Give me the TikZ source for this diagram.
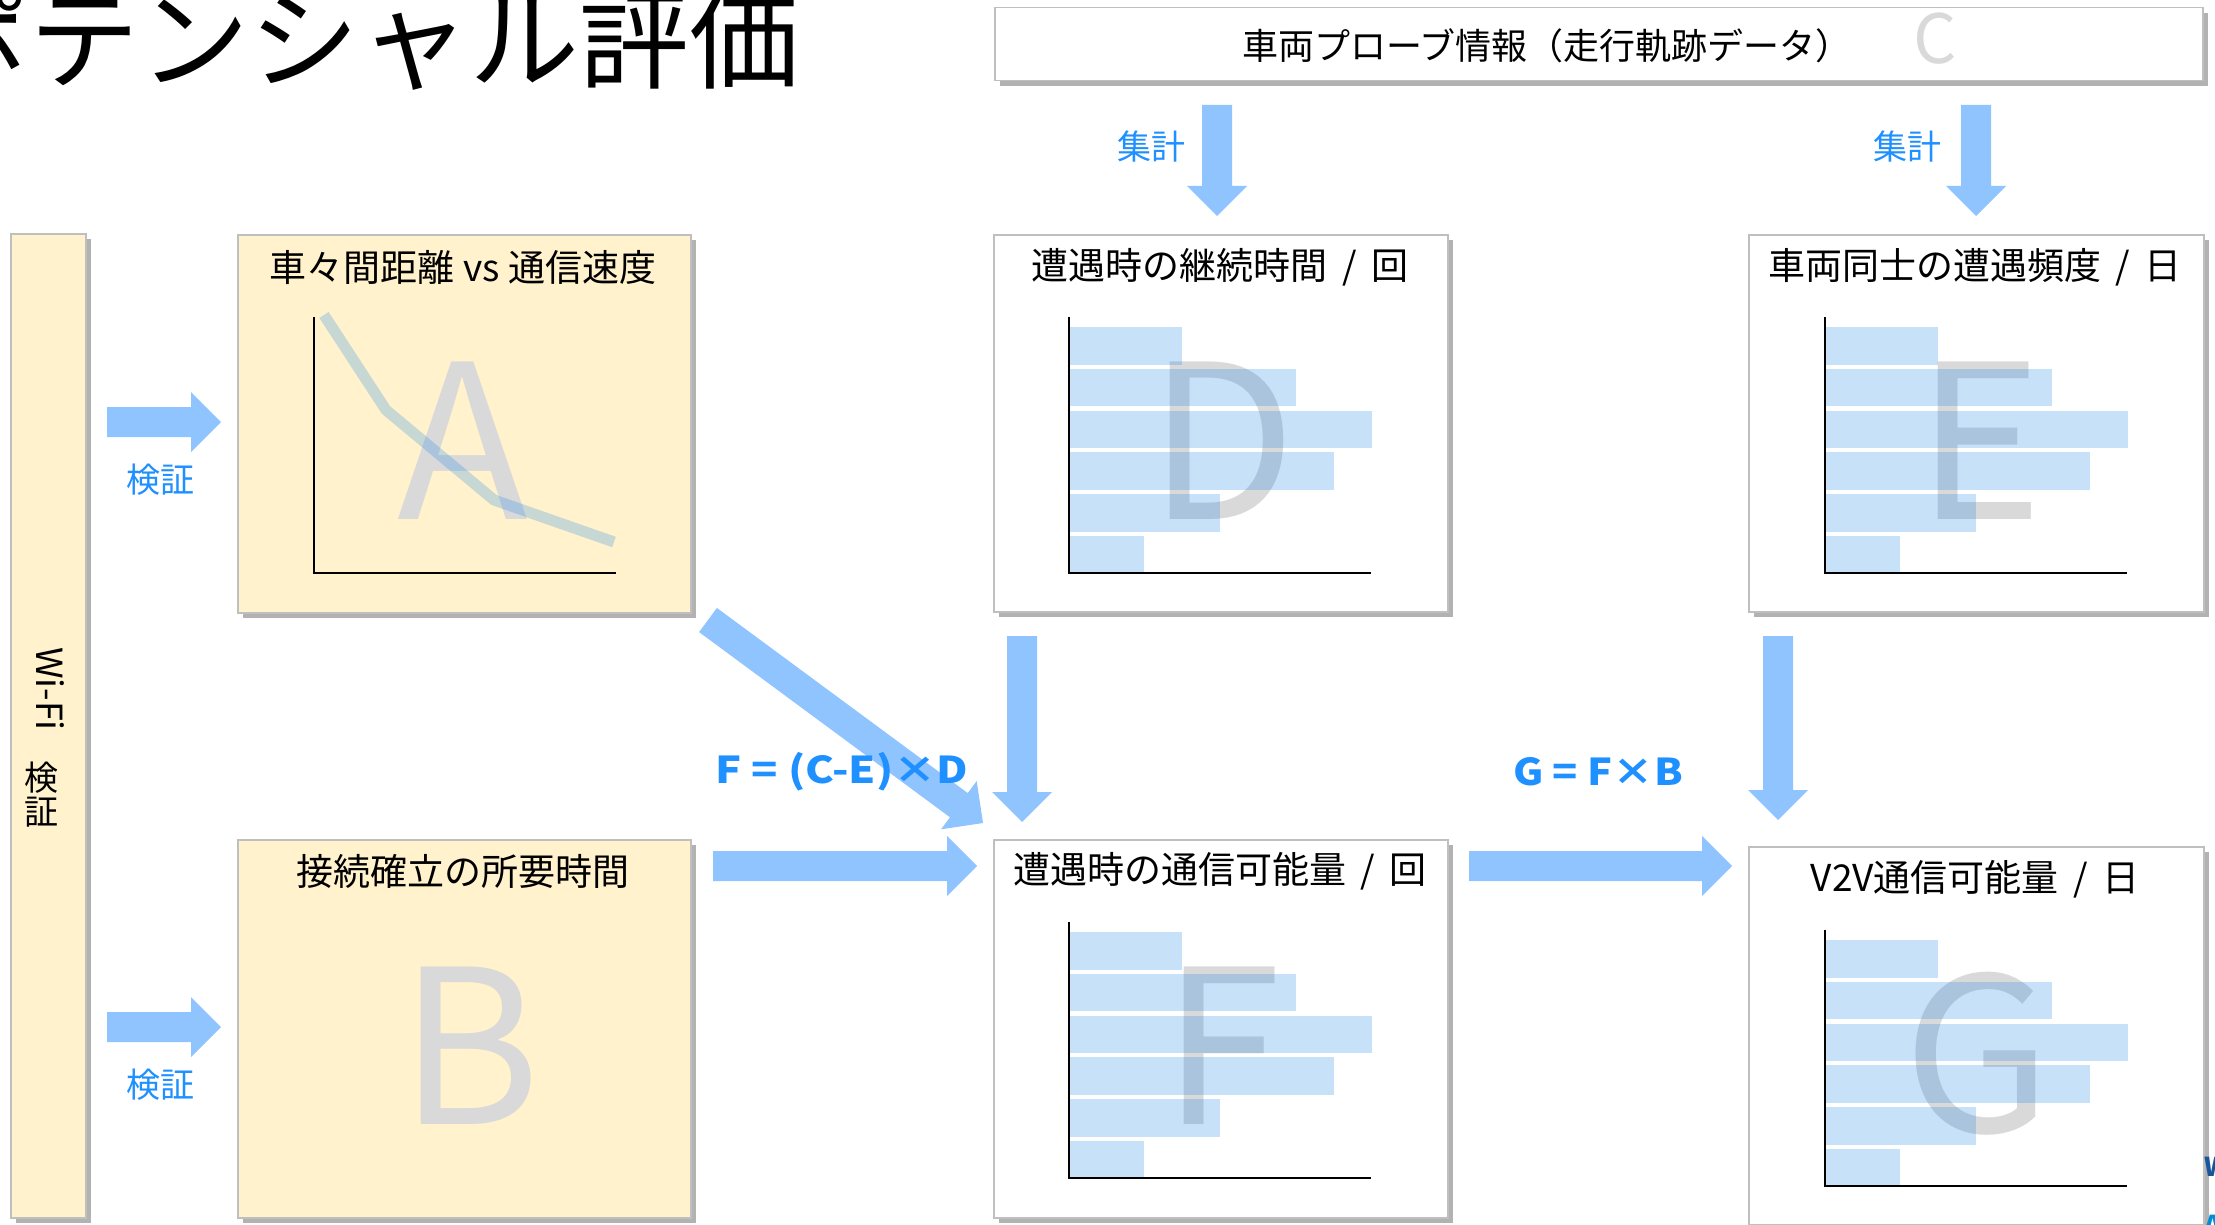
\documentclass[tikz,border=0pt]{standalone}
\usepackage{fontspec}
\setmainfont{Noto Sans CJK JP}
\usetikzlibrary{calc,shadows}

\definecolor{cream}{RGB}{255,242,204}
\definecolor{boxline}{RGB}{191,191,191}
\definecolor{arrowblue}{RGB}{143,196,255}
\definecolor{labelblue}{RGB}{30,144,255}
\definecolor{barblue}{RGB}{22,130,234}
\definecolor{lettergray}{RGB}{217,217,217}
\definecolor{logoblue}{RGB}{25,85,155}
\definecolor{logoblueb}{RGB}{0,140,215}

\newcommand\fs[1]{\fontsize{#1}{#1}\selectfont}

% block arrow from named coordinate #1 to named coordinate #2
\newcommand\blockarrow[2]{%
  \coordinate (bah) at ($(#2)!30pt!(#1)$);
  \fill[arrowblue] ($(#1)!15pt!90:(#2)$) -- ($(bah)!15pt!90:(#2)$) -- ($(bah)!30pt!90:(#2)$)
     -- (#2) -- ($(bah)!30pt!-90:(#2)$) -- ($(bah)!15pt!-90:(#2)$) -- ($(#1)!15pt!-90:(#2)$) -- cycle;
}

% histogram: #1 axis x, #2 axis bottom y
\newcommand\histo[2]{%
  \foreach \w [count=\i from 0] in {112,226,302,264,150,74} {
    \fill[histbar] (#1+1, #2-246+41.8*\i) rectangle ++(\w, 37.5);
  }
  \draw[axisline] (#1,#2-256) -- (#1,#2) -- (#1+302,#2);
}

\tikzset{
  panel/.style={draw=boxline, line width=1.5pt, anchor=north west, inner sep=0pt,
    drop shadow={shadow xshift=5pt, shadow yshift=-5pt, opacity=0.3, fill=black}},
  creampanel/.style={panel, fill=cream},
  whitepanel/.style={panel, fill=white},
  paneltitle/.style={inner sep=0pt, font=\fs{37}},
  bigletter/.style={inner sep=0pt, text=lettergray, font=\fs{215}},
  bluelabel/.style={inner sep=0pt, text=labelblue, font=\fs{34}},
  formula/.style={inner sep=0pt, text=labelblue, font=\fs{37}\bfseries},
  axisline/.style={line width=1.5pt, black},
  histbar/.style={fill=barblue, fill opacity=0.24},
}

\begin{document}
\begin{tikzpicture}[x=1pt,y=-1pt]
\useasboundingbox[fill=white] (0,0) rectangle (2215,1225);

% title
\node[anchor=base east, inner sep=0pt, font=\fs{110}] (title) at (800,81) {ポテンシャル評価};

% panels
\node[creampanel, minimum width=75pt, minimum height=984pt] (wifi) at (10,233) {};
\node[creampanel, minimum width=453pt, minimum height=378pt] (A) at (237,234) {};
\node[creampanel, minimum width=453pt, minimum height=378pt] (B) at (237,839) {};
\node[whitepanel, minimum width=1208pt, minimum height=73pt] (C) at (994,7) {};
\node[whitepanel, minimum width=454pt, minimum height=377pt] (D) at (993,234) {};
\node[whitepanel, minimum width=455pt, minimum height=377pt] (E) at (1748,234) {};
\node[whitepanel, minimum width=454pt, minimum height=378pt] (F) at (993,839) {};
\node[whitepanel, minimum width=455pt, minimum height=378pt] (G) at (1748,846) {};

% Wi-Fi panel text
\node[rotate=-90, font=\fs{36}, inner sep=0pt] (wifitxt) at (50,689) {Wi-Fi};
\node[font=\fs{34}, align=center, inner sep=0pt] (wifiken) at (41,795) {検\\証};

% C panel
\node[font=\fs{36}, inner sep=0pt] (Ctxt) at (1547,46) {車両プローブ情報（走行軌跡データ）};
\node[font=\fs{68}, text=lettergray, inner sep=0pt] (Cletter) at (1935,39) {C};

% big letters
\node[bigletter] (Aletter) at (463,441) {A};
\node[bigletter] (Bletter) at (470,1046) {B};
\node[bigletter] (Dletter) at (1222,441) {D};
\node[bigletter] (Eletter) at (1980,441) {E};
\node[bigletter] (Fletter) at (1222,1046) {F};
\node[bigletter] (Gletter) at (1978,1054) {G};

% chart A
\draw[barblue, draw opacity=0.24, line width=11pt, line join=round]
  (324,315) -- (386,410) -- (494,500) -- (614,542);
\draw[axisline] (314,317) -- (314,573) -- (616,573);

% histograms
\histo{1069}{573}
\histo{1825}{573}
\histo{1069}{1178}
\histo{1825}{1186}

% panel titles
\node[paneltitle] (Atitle) at (463,267) {車々間距離 vs 通信速度};
\node[paneltitle] (Btitle) at (463,871) {接続確立の所要時間};
\node[paneltitle] (Dtitle) at (1220,267) {遭遇時の継続時間 \,/\, 回};
\node[paneltitle] (Etitle) at (1975,267) {車両同士の遭遇頻度 \,/\, 日};
\node[paneltitle] (Ftitle) at (1220,871) {遭遇時の通信可能量 \,/\, 回};
\node[paneltitle] (Gtitle) at (1975,879) {V2V通信可能量 \,/\, 日};

% arrow end points
\coordinate (c1s) at (1217,105); \coordinate (c1e) at (1217,216);
\coordinate (c2s) at (1976,105); \coordinate (c2e) at (1976,216);
\coordinate (wAs) at (107,422); \coordinate (wAe) at (221,422);
\coordinate (wBs) at (107,1027); \coordinate (wBe) at (221,1027);
\coordinate (ADs) at (708,620); \coordinate (ADe) at (983,823);
\coordinate (DFs) at (1022,636); \coordinate (DFe) at (1022,822);
\coordinate (EGs) at (1778,636); \coordinate (EGe) at (1778,820);
\coordinate (BFs) at (713,866); \coordinate (BFe) at (977,866);
\coordinate (FGs) at (1469,866); \coordinate (FGe) at (1732,866);

\blockarrow{c1s}{c1e}
\blockarrow{c2s}{c2e}
\blockarrow{wAs}{wAe}
\blockarrow{wBs}{wBe}
\blockarrow{ADs}{ADe}
\blockarrow{DFs}{DFe}
\blockarrow{EGs}{EGe}
\blockarrow{BFs}{BFe}
\blockarrow{FGs}{FGe}

% labels
\node[bluelabel] (sum1) at (1151,147) {集計};
\node[bluelabel] (sum2) at (1907,147) {集計};
\node[bluelabel] (kenA) at (160,480) {検証};
\node[bluelabel] (kenB) at (160,1085) {検証};
\node[formula] (fF) at (842,772) {\scalebox{1.17}[1]{F = (C-E)×D}};
\node[formula] (fG) at (1598,772) {\scalebox{1.12}[1]{G = F×B}};

% cut-off logo letters
\node[anchor=west, inner sep=0pt, text=logoblue, font=\fs{26}\bfseries] (logoW) at (2204,1167) {W};
\node[anchor=west, inner sep=0pt, text=logoblueb, font=\fs{26}\bfseries] (logoA) at (2204,1225) {A};
\end{tikzpicture}
\end{document}
